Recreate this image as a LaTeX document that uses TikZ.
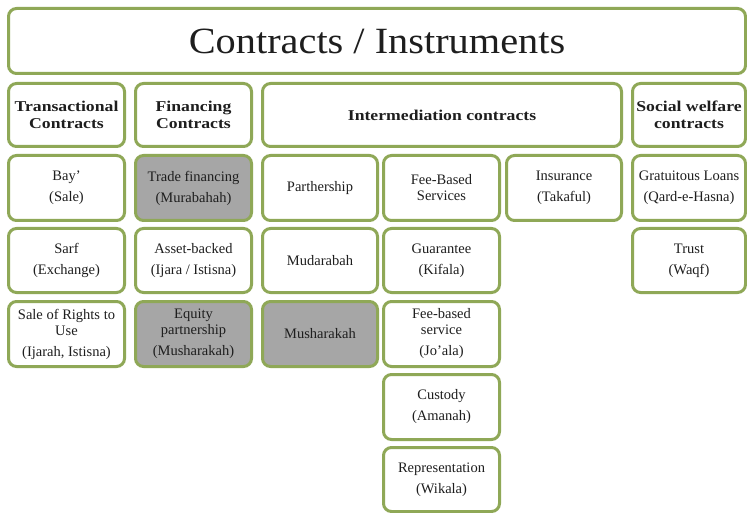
\documentclass[tikz,border=0pt]{standalone}
\usepackage{fontspec}
\setmainfont{Liberation Serif}
\newfontfamily\titlefont[FakeStretch=1.09]{Liberation Serif}
\newfontfamily\hdrfont[FakeStretch=1.18]{Liberation Serif}
\definecolor{olivebd}{RGB}{143,168,87}
\definecolor{grayfill}{RGB}{166,166,166}
\definecolor{txt}{RGB}{30,30,30}
\tikzset{
  box/.style={draw=olivebd, line width=3pt, rounded corners=8pt, fill=white,
    inner sep=0pt, align=center, text=txt, minimum width=116pt, minimum height=65pt,
    font=\fontsize{14.5}{16}\selectfont},
  shaded/.style={box, fill=grayfill},
  hdr/.style={box, font=\hdrfont\bfseries\fontsize{15}{17}\selectfont},
  ttl/.style={box, font=\titlefont\fontsize{37}{40}\selectfont}
}
\begin{document}
\begin{tikzpicture}[x=1pt,y=-1pt]
\useasboundingbox[fill=white] (0,0) rectangle (747,513);
% title
\node[ttl, minimum width=737pt, minimum height=65pt] (title) at (377,41) {Contracts / Instruments};
% headers
\node[hdr, minimum height=63pt] (h1) at (66.5,115) {Transactional\\Contracts};
\node[hdr, minimum height=63pt] (h2) at (193.5,115) {Financing\\Contracts};
\node[hdr, minimum height=63pt, minimum width=359pt] (h3) at (442,115) {Intermediation contracts};
\node[hdr, minimum height=63pt, minimum width=113pt] (h4) at (689,115) {Social welfare\\contracts};
% column 1
\node[box] (bay) at (66.5,188) {Bay’\\[5pt](Sale)};
\node[box, minimum height=64pt] (sarf) at (66.5,260.5) {Sarf\\[5pt](Exchange)};
\node[box] (rights) at (66.5,334) {Sale of Rights to\\Use\\[5pt](Ijarah, Istisna)};
% column 2
\node[shaded] (trade) at (193.5,188) {Trade financing\\[5pt](Murabahah)};
\node[box, minimum height=64pt] (asset) at (193.5,260.5) {Asset-backed\\[5pt](Ijara / Istisna)};
\node[shaded] (equity) at (193.5,334) {Equity\\partnership\\[5pt](Musharakah)};
% column 3
\node[box, minimum width=115pt] (partner) at (320,188) {Parthership};
\node[box, minimum width=115pt, minimum height=64pt] (mudar) at (320,260.5) {Mudarabah};
\node[shaded, minimum width=115pt] (mushar) at (320,334) {Musharakah};
% column 4
\node[box] (fee) at (441.5,188) {Fee-Based\\Services};
\node[box, minimum height=64pt] (guar) at (441.5,260.5) {Guarantee\\[5pt](Kifala)};
\node[box] (joala) at (441.5,334) {Fee-based\\service\\[5pt](Jo’ala)};
\node[box] (cust) at (441.5,407) {Custody\\[5pt](Amanah)};
\node[box, minimum height=64pt] (repr) at (441.5,479.5) {Representation\\[5pt](Wikala)};
% column 5
\node[box, minimum width=115pt] (ins) at (564,188) {Insurance\\[5pt](Takaful)};
% column 6
\node[box, minimum width=113pt] (loans) at (689,188) {Gratuitous Loans\\[5pt](Qard-e-Hasna)};
\node[box, minimum width=113pt, minimum height=64pt] (trust) at (689,260.5) {Trust\\[5pt](Waqf)};
\end{tikzpicture}
\end{document}
